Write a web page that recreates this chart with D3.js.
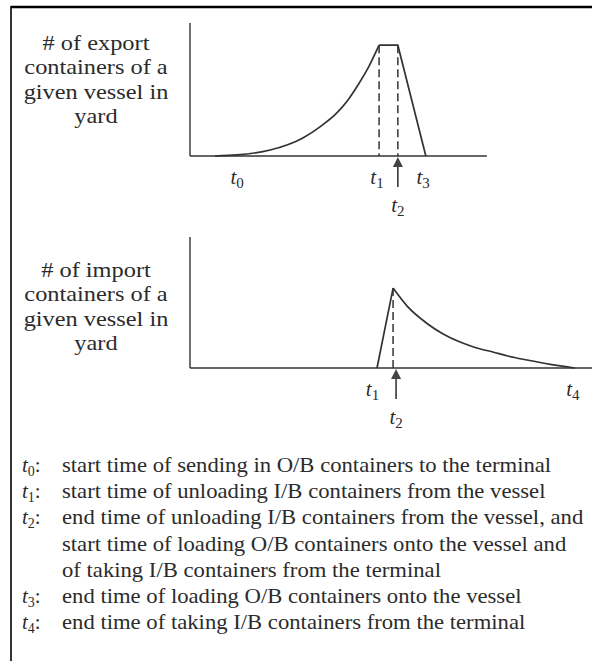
<!DOCTYPE html>
<html>
<head>
<meta charset="utf-8">
<script src="https://cdn.jsdelivr.net/npm/d3@7"></script>
<style>
  html, body { margin: 0; padding: 0; background: #fff; }
  svg { display: block; }
  text { font-family: "Liberation Serif", "Times New Roman", serif; fill: #2b2b2b; }
</style>
</head>
<body>
<svg id="chart" width="592" height="661"></svg>
<script>
// ---- data ----
// time axis runs 0..135 (arbitrary units); y values are 0..100 (relative count)
const exportCurve = [
  [8.4, 0], [15.8, 0.8], [26.9, 4.5], [37.9, 13.6], [44, 22.5], [49.4, 32.6],
  [53, 42], [56.1, 52.3], [60, 67], [63.5, 83.3]
];
const exportTail = [[63.5, 83.3], [69.8, 83.3], [79.2, 0]];   // plateau t1..t2, loading until t3
const importRise = [[62.8, 0], [68.2, 61]];                     // unloading t1..t2
const importDecay = [
  [68.2, 61], [73, 47], [79.6, 34], [85, 26], [90.7, 19.8], [96, 15.5],
  [101.7, 12.2], [107, 9], [113.2, 6.1], [121, 2.8], [129.3, 0]
];
const exportDashes = [63.5, 69.8];
const importDashes = [68.2];
const exportTicks = [
  { name: "t", sub: "0", t: 15.8, row: 0 },
  { name: "t", sub: "1", t: 62.8, row: 0 },
  { name: "t", sub: "2", t: 69.8, row: 1 },
  { name: "t", sub: "3", t: 78.3, row: 0 }
];
const importTicks = [
  { name: "t", sub: "1", t: 61.3, row: 0 },
  { name: "t", sub: "2", t: 69.2, row: 1 },
  { name: "t", sub: "4", t: 128.6, row: 0 }
];
const exportArrowAt = 69.8;
const importArrowAt = 69.2;
const exportTitle = ["# of export", "containers of a", "given vessel in", "yard"];
const importTitle = ["# of import", "containers of a", "given vessel in", "yard"];
const legendKeys = ["0", "1", "2", "", "", "3", "4"];
const legendLines = [
  "start time of sending in O/B containers to the terminal",
  "start time of unloading I/B containers from the vessel",
  "end time of unloading I/B containers from the vessel, and",
  "start time of loading O/B containers onto the vessel and",
  "of taking I/B containers from the terminal",
  "end time of loading O/B containers onto the vessel",
  "end time of taking I/B containers from the terminal"
];

// ---- drawing ----
const svg = d3.select("#chart");
const ink = "#333";

// page frame (top and left rules)
svg.append("line").attr("x1", 11).attr("x2", 592).attr("y1", 7).attr("y2", 7)
  .attr("stroke", "#000").attr("stroke-width", 2.5);
svg.append("line").attr("x1", 11).attr("x2", 11).attr("y1", 6).attr("y2", 661)
  .attr("stroke", "#000").attr("stroke-width", 1.6);

const x = d3.scaleLinear().domain([0, 135]).range([190, 592]);

function panel(cfg) {
  const y = d3.scaleLinear().domain([0, 100]).range([cfg.base, cfg.top]);
  const g = svg.append("g");

  // axes
  g.append("line").attr("x1", x(0)).attr("x2", x(0)).attr("y1", y(100)).attr("y2", y(0))
    .attr("stroke", "#555").attr("stroke-width", 1.7);
  g.append("line").attr("x1", x(0)).attr("x2", x(cfg.xEnd)).attr("y1", y(0)).attr("y2", y(0))
    .attr("stroke", ink).attr("stroke-width", 1.5);

  const line = d3.line().x(d => x(d[0])).y(d => y(d[1]));
  cfg.paths.forEach(p => {
    g.append("path").attr("d", line.curve(p.curve || d3.curveLinear)(p.data))
      .attr("fill", "none").attr("stroke", ink).attr("stroke-width", 1.7);
  });

  // dashed guides
  cfg.dashes.forEach(t => {
    g.append("line").attr("x1", x(t)).attr("x2", x(t)).attr("y1", y(cfg.dashTop)).attr("y2", y(0))
      .attr("stroke", ink).attr("stroke-width", 1.5).attr("stroke-dasharray", "8,4");
  });

  // arrow pointing up to the axis
  const ax = x(cfg.arrowAt), ay = y(0);
  g.append("line").attr("x1", ax).attr("x2", ax).attr("y1", ay + 6).attr("y2", ay + 31)
    .attr("stroke", "#444").attr("stroke-width", 1.7);
  g.append("path").attr("d", `M${ax},${ay + 1}L${ax - 5},${ay + 11}L${ax + 5},${ay + 11}Z`)
    .attr("fill", "#444");

  // time labels
  cfg.ticks.forEach(d => {
    const t = g.append("text").attr("x", x(d.t)).attr("y", y(0) + (d.row ? 56 : 28))
      .attr("text-anchor", "middle").style("font-size", "21px");
    t.append("tspan").style("font-style", "italic").text(d.name);
    t.append("tspan").attr("dy", 4).style("font-size", "15px").text(d.sub);
  });

  // axis title on the left, slightly widened type
  const title = g.append("text").attr("text-anchor", "middle").style("font-size", "21px")
    .attr("transform", "translate(96,0) scale(1.16,1)");
  cfg.title.forEach((s, i) => {
    title.append("tspan").attr("x", 0).attr("y", cfg.titleY + i * 24.5).text(s);
  });
}

panel({
  top: 23, base: 156, xEnd: 99.7,
  paths: [{ data: exportCurve, curve: d3.curveMonotoneX }, { data: exportTail }],
  dashes: exportDashes, dashTop: 83.3,
  arrowAt: exportArrowAt, ticks: exportTicks,
  title: exportTitle, titleY: 50
});

panel({
  top: 237, base: 368, xEnd: 135,
  paths: [{ data: importRise }, { data: importDecay, curve: d3.curveMonotoneX }],
  dashes: importDashes, dashTop: 61,
  arrowAt: importArrowAt, ticks: importTicks,
  title: importTitle, titleY: 277
});

// legend
const legend = svg.append("g");
legendLines.forEach((s, i) => {
  const yy = 472 + i * 26.2;
  if (legendKeys[i] !== "") {
    const k = legend.append("text").attr("x", 22).attr("y", yy).style("font-size", "21px");
    k.append("tspan").style("font-style", "italic").text("t");
    k.append("tspan").attr("dy", 4).style("font-size", "14px").text(legendKeys[i]);
    k.append("tspan").attr("dy", -4).text(":");
  }
  legend.append("text").attr("transform", `translate(62,${yy}) scale(1.08,1)`)
    .style("font-size", "21px").text(s);
});
</script>
</body>
</html>
